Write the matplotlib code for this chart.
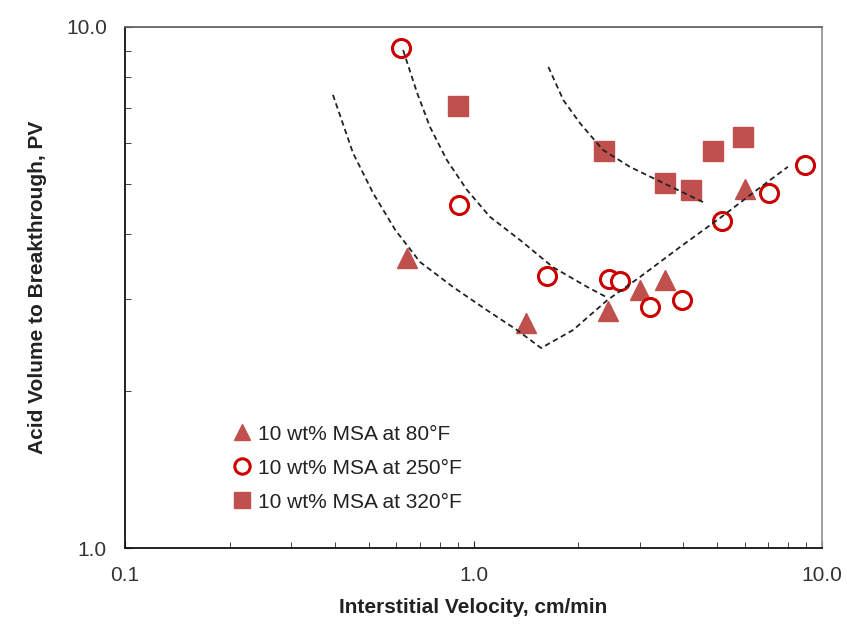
import numpy as np
import matplotlib.pyplot as plt
from matplotlib.ticker import LogLocator, FuncFormatter, NullFormatter

plt.rcParams['font.family'] = ['Liberation Sans', 'DejaVu Sans']

# measured points
v_80 = [0.644, 1.41, 2.43, 3.00, 3.54, 6.01]
pv_80 = [3.60, 2.70, 2.85, 3.13, 3.27, 4.89]

v_250 = [0.619, 0.908, 1.63, 2.44, 2.63, 3.21, 3.96, 5.15, 7.05, 8.94]
pv_250 = [9.12, 4.55, 3.33, 3.28, 3.25, 2.90, 2.99, 4.24, 4.81, 5.43]

v_320 = [0.904, 2.37, 3.54, 4.20, 4.86, 5.92]
pv_320 = [7.05, 5.78, 5.02, 4.87, 5.78, 6.16]

# hand drawn trend curves
trend1_v = [0.395, 0.451, 0.515, 0.596, 0.702, 0.873, 1.093, 1.333, 1.563,
            1.93, 2.42, 3.00, 3.91, 5.10, 6.51, 7.98]
trend1_pv = [7.41, 5.73, 4.80, 4.08, 3.54, 3.17, 2.86, 2.62, 2.42,
             2.62, 2.99, 3.31, 3.78, 4.30, 4.87, 5.39]
trend2_v = [0.628, 0.689, 0.750, 0.839, 0.957, 1.115, 1.36, 1.69, 2.12, 2.43]
trend2_pv = [9.03, 7.47, 6.43, 5.55, 4.87, 4.32, 3.90, 3.46, 3.17, 3.02]
trend3_v = [1.64, 1.81, 2.02, 2.35, 2.81, 3.50, 4.56]
trend3_pv = [8.38, 7.24, 6.54, 5.81, 5.39, 5.02, 4.61]

fill_red = '#C0504D'
ring_red = '#CC0000'

fig = plt.figure(figsize=(8.47, 6.35), dpi=100)
ax = fig.add_axes([0.1476, 0.137, 0.8229, 0.8205])

dash = (0, (3, 2))
for tv, tp in [(trend1_v, trend1_pv), (trend2_v, trend2_pv), (trend3_v, trend3_pv)]:
    ax.plot(tv, tp, color='#222222', lw=1.3, linestyle=dash, zorder=3)

ax.plot(v_80, pv_80, '^', ms=14, color=fill_red, mec=fill_red, ls='none',
        label='10 wt% MSA at 80°F', zorder=2)
ax.plot(v_250, pv_250, 'o', ms=13, mfc='white', mec=ring_red, mew=2.2, ls='none',
        label='10 wt% MSA at 250°F', zorder=2)
ax.plot(v_320, pv_320, 's', ms=14, color=fill_red, mec=fill_red, ls='none',
        label='10 wt% MSA at 320°F', zorder=2)

ax.set_xscale('log')
ax.set_yscale('log')
ax.set_xlim(0.1, 10)
ax.set_ylim(1, 10)

fmt = FuncFormatter(lambda v, p: '%.1f' % v)
ax.xaxis.set_major_formatter(fmt)
ax.yaxis.set_major_formatter(fmt)
ax.xaxis.set_minor_locator(LogLocator(base=10, subs=np.arange(2, 10)))
ax.yaxis.set_minor_locator(LogLocator(base=10, subs=np.arange(2, 10)))
ax.xaxis.set_minor_formatter(NullFormatter())
ax.yaxis.set_minor_formatter(NullFormatter())

ax.tick_params(axis='both', which='both', direction='in', top=False, right=False,
               labelsize=15, colors='#222222', labelcolor='#333333')
ax.tick_params(axis='x', which='major', length=5, pad=13)
ax.tick_params(axis='y', which='major', length=5, pad=13)
ax.tick_params(which='minor', length=4)

for s in ['left', 'bottom']:
    ax.spines[s].set_color('#111111')
    ax.spines[s].set_linewidth(1.3)
ax.spines['top'].set_color('#666666')
ax.spines['right'].set_color('#999999')
ax.spines['top'].set_linewidth(1.3)
ax.spines['right'].set_linewidth(1.3)

ax.set_xlabel('Interstitial Velocity, cm/min', fontsize=15, fontweight='bold',
              color='#222222', labelpad=9)
ax.set_ylabel('Acid Volume to Breakthrough, PV', fontsize=15, fontweight='bold',
              color='#222222', labelpad=14)

ax.legend(loc='lower left', bbox_to_anchor=(0.13, 0.034), frameon=False, fontsize=15,
          markerscale=0.85, handlelength=0.7, handletextpad=0.45, labelspacing=0.72,
          labelcolor='#222222')

fig.savefig('out.png', dpi=100)
